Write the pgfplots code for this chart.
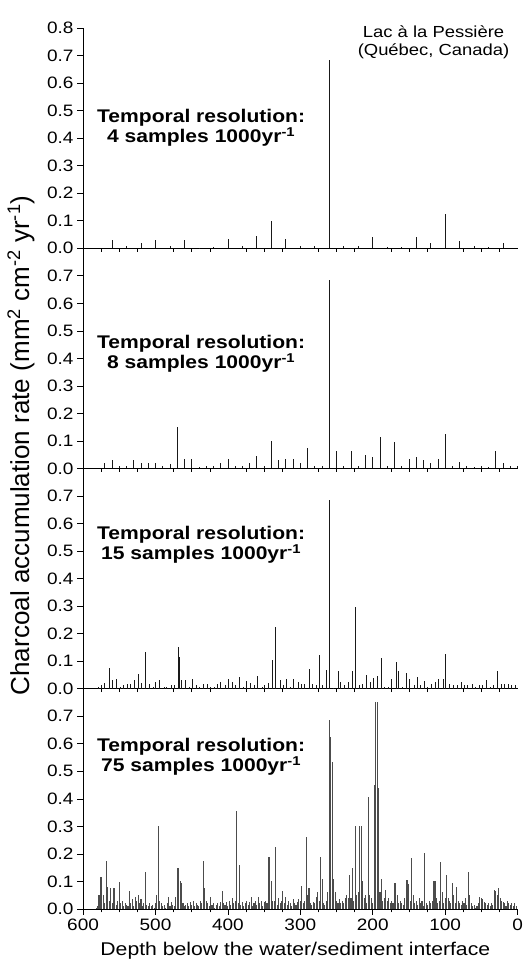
\documentclass[border=0pt]{standalone}
\usepackage{fontspec}
\setmainfont{Liberation Sans}[FakeStretch=1.15]
\newfontfamily\ylabfont{Liberation Sans}
\usepackage{pgfplots}
\pgfplotsset{compat=1.18}
\usepgfplotslibrary{groupplots}
\usetikzlibrary{calc}

\newcommand{\ticksize}{\fontsize{16.5bp}{18bp}\selectfont}
\newcommand{\notesize}{\fontsize{18.3bp}{17.7bp}\selectfont\bfseries}
\pgfplotsset{
    spikes/.style={ycomb, draw=black!90, line width=0.8bp, mark=none},
}
\tikzset{note/.style={anchor=base, align=center, font=\notesize}}

\begin{document}
\begin{tikzpicture}
\begin{groupplot}[
    group style={group size=1 by 4, vertical sep=0pt},
    scale only axis,
    width=434bp, height=220bp,
    xmin=0, xmax=600, x dir=reverse,
    ymin=0, ymax=0.8,
    axis x line*=bottom, axis y line*=left,
    axis line style={-, black, line width=0.6bp},
    tick align=outside,
    major tick length=6bp, minor tick length=3.5bp,
    tick style={black, line width=0.6bp},
    xtick={0,100,...,600}, minor x tick num=3,
    ytick={0,0.1,0.2,0.3,0.4,0.5,0.6,0.7},
    /pgf/number format/assume math mode=true,
    yticklabel style={font=\ticksize, /pgf/number format/fixed,
        /pgf/number format/fixed zerofill, /pgf/number format/precision=1},
    xticklabel style={font=\ticksize},
    clip=false,
]
% 4 samples per 1000 yr
\nextgroupplot[ytick={0,0.1,0.2,0.3,0.4,0.5,0.6,0.7,0.8},
    xmajorticks=false, xminorticks=false, xticklabels={}]
\addplot[spikes] coordinates {
(560,0.03) (540,0.01) (520,0.02) (500,0.03) (480,0.01) (460,0.03) (440,0.002)
(420,0.005) (400,0.035) (380,0.01) (360,0.045) (340,0.10) (320,0.035) (300,0.01)
(280,0.01) (260,0.685) (240,0.01) (220,0.01) (200,0.04) (180,0.005) (160,0.005)
(140,0.04) (120,0.02) (100,0.125) (80,0.025) (60,0.01) (40,0.005) (20,0.02)
};
\node[note] at (axis cs:437,0.385) {Temporal resolution:\\4 samples 1000yr\textsuperscript{-1}};
\node[anchor=base, align=center, font=\fontsize{16bp}{17.5bp}\selectfont]
  at (axis cs:116,0.702) {Lac à la Pessière\\(Québec, Canada)};

% 8 samples per 1000 yr
\nextgroupplot[xmajorticks=false, xminorticks=false, xticklabels={}]
\addplot[spikes] coordinates {
(570,0.02) (560,0.03) (550,0.01) (540,0.01) (530,0.03) (520,0.02) (510,0.02)
(500,0.02) (490,0.01) (480,0.015) (470,0.15) (460,0.035) (450,0.035) (440,0.005)
(430,0.01) (420,0.01) (410,0.02) (400,0.035) (390,0.01) (380,0.01) (370,0.02)
(360,0.045) (350,0.01) (340,0.10) (330,0.03) (320,0.035) (310,0.035) (300,0.02)
(290,0.075) (280,0.01) (270,0.01) (260,0.685) (250,0.065) (240,0.01) (230,0.065)
(220,0.01) (210,0.05) (200,0.04) (190,0.115) (180,0.01) (170,0.095) (160,0.01)
(150,0.035) (140,0.04) (130,0.03) (120,0.02) (110,0.035) (100,0.125) (90,0.01)
(80,0.025) (70,0.01) (60,0.005) (50,0.01) (40,0.005) (30,0.065) (20,0.02)
(10,0.01) (0,0.01)
};
\node[note] at (axis cs:437,0.364) {Temporal resolution:\\8 samples 1000yr\textsuperscript{-1}};

% 15 samples per 1000 yr
\nextgroupplot[xmajorticks=false, xminorticks=false, xticklabels={}]
\addplot[spikes] coordinates {
(579,0.005) (575,0.012) (570,0.02) (564,0.075) (560,0.033) (554,0.035) (549,0.008)
(545,0.015) (539,0.018) (535,0.018) (529,0.03) (524,0.053) (519,0.02) (514,0.135)
(509,0.018) (503,0.006) (500,0.025) (494,0.03) (488,0.008) (485,0.008) (478,0.015)
(474,0.015) (469,0.15) (467,0.115) (464,0.033) (459,0.033) (453,0.006) (449,0.035)
(443,0.012) (439,0.008) (434,0.018) (428,0.018) (424,0.008) (419,0.008) (414,0.018)
(410,0.024) (404,0.012) (399,0.035) (394,0.024) (389,0.012) (384,0.041) (378,0.008)
(374,0.029) (369,0.02) (364,0.015) (359,0.047) (353,0.006) (349,0.015) (344,0.02)
(339,0.103) (334,0.223) (328,0.03) (324,0.015) (319,0.035) (314,0.008) (309,0.035)
(303,0.024) (298,0.018) (294,0.018) (288,0.072) (284,0.018) (278,0.012) (274,0.123)
(269,0.015) (264,0.069) (260,0.685) (254,0.002) (248,0.063) (244,0.024) (239,0.015)
(234,0.024) (228,0.063) (224,0.296) (218,0.015) (214,0.018) (209,0.051) (203,0.024)
(199,0.039) (194,0.047) (188,0.111) (184,0.006) (178,0.006) (174,0.035) (168,0.097)
(164,0.063) (159,0.006) (153,0.057) (149,0.035) (143,0.015) (139,0.041) (134,0.015)
(128,0.029) (124,0.006) (119,0.018) (114,0.024) (109,0.035) (103,0.035) (99,0.125)
(94,0.018) (88,0.012) (83,0.012) (78,0.024) (73,0.015) (69,0.015) (63,0.018)
(58,0.006) (53,0.012) (48,0.012) (43,0.03) (38,0.008) (34,0.015) (28,0.063)
(23,0.018) (18,0.018) (13,0.018) (8,0.012) (3,0.012)
};
\node[note] at (axis cs:437,0.469) {Temporal resolution:\\15 samples 1000yr\textsuperscript{-1}};

% 75 samples per 1000 yr
\nextgroupplot
\addplot[spikes, draw=black!70, line width=1.05bp] coordinates {
(582,0.005) (580,0.01) (578,0.05) (576,0.115) (574,0.115) (572,0.05) (570,0.02)
(568,0.175) (566,0.08) (564,0.03) (562,0.075) (560,0.02) (558,0.075) (556,0.075)
(554,0.015) (552,0.03) (550,0.097) (548,0.02) (546,0.03) (544,0.01) (542,0.02)
(540,0.015) (538,0.01) (536,0.065) (534,0.02) (532,0.035) (530,0.01) (528,0.045)
(526,0.03) (524,0.05) (522,0.02) (520,0.035) (518,0.01) (516,0.02) (514,0.135)
(512,0.015) (510,0.01) (508,0.02) (506,0.01) (504,0.015) (502,0.005) (500,0.02)
(498,0.05) (496,0.30) (494,0.03) (492,0.02) (490,0.01) (488,0.015) (486,0.005)
(484,0.02) (482,0.045) (480,0.01) (478,0.025) (476,0.015) (474,0.01) (472,0.045)
(470,0.15) (468,0.15) (466,0.10) (464,0.095) (462,0.02) (460,0.01) (458,0.015)
(456,0.02) (454,0.01) (452,0.025) (450,0.015) (448,0.03) (446,0.01) (444,0.02)
(442,0.015) (440,0.01) (438,0.03) (436,0.02) (434,0.175) (432,0.075) (430,0.03)
(428,0.02) (426,0.01) (424,0.045) (422,0.015) (420,0.02) (418,0.005) (416,0.015)
(414,0.02) (412,0.01) (410,0.025) (408,0.065) (406,0.02) (404,0.015) (402,0.025)
(400,0.01) (398,0.03) (396,0.015) (394,0.04) (392,0.02) (390,0.03) (388,0.355)
(386,0.02) (384,0.16) (382,0.015) (380,0.025) (378,0.01) (376,0.02) (374,0.03)
(372,0.015) (370,0.025) (368,0.045) (366,0.01) (364,0.02) (362,0.03) (360,0.015)
(358,0.045) (356,0.02) (354,0.03) (352,0.01) (350,0.025) (348,0.03) (346,0.02)
(344,0.19) (342,0.19) (340,0.10) (338,0.03) (336,0.03) (334,0.225) (332,0.015)
(330,0.04) (328,0.02) (326,0.03) (324,0.065) (322,0.02) (320,0.045) (318,0.015)
(316,0.03) (314,0.02) (312,0.01) (310,0.035) (308,0.02) (306,0.015) (304,0.025)
(302,0.035) (300,0.03) (298,0.085) (296,0.02) (294,0.03) (292,0.26) (290,0.05)
(288,0.075) (286,0.02) (284,0.015) (282,0.025) (280,0.02) (278,0.045) (276,0.06)
(274,0.03) (272,0.19) (270,0.11) (268,0.02) (266,0.015) (264,0.03) (262,0.06)
(260,0.685) (258,0.625) (256,0.535) (254,0.11) (252,0.06) (250,0.03) (248,0.02)
(246,0.035) (244,0.02) (242,0.03) (240,0.02) (238,0.04) (236,0.05) (234,0.04)
(232,0.125) (230,0.04) (228,0.15) (226,0.03) (224,0.30) (222,0.05) (220,0.06)
(218,0.30) (216,0.30) (214,0.10) (212,0.04) (210,0.05) (208,0.02) (206,0.405)
(204,0.05) (202,0.04) (200,0.02) (198,0.45) (196,0.75) (194,0.75) (192,0.44)
(190,0.06) (188,0.11) (186,0.03) (184,0.04) (182,0.07) (180,0.03) (178,0.04)
(176,0.02) (174,0.03) (172,0.02) (170,0.095) (168,0.095) (166,0.05) (164,0.02)
(162,0.03) (160,0.02) (158,0.015) (156,0.04) (154,0.105) (152,0.105) (150,0.09)
(148,0.03) (146,0.185) (144,0.05) (142,0.02) (140,0.03) (138,0.015) (136,0.04)
(134,0.02) (132,0.03) (130,0.01) (128,0.205) (126,0.02) (124,0.015) (122,0.03)
(120,0.02) (118,0.03) (116,0.10) (114,0.10) (112,0.04) (110,0.02) (108,0.03)
(106,0.17) (104,0.06) (102,0.02) (100,0.04) (98,0.125) (96,0.04) (94,0.03)
(92,0.02) (90,0.095) (88,0.05) (86,0.02) (84,0.08) (82,0.03) (80,0.02)
(78,0.015) (76,0.03) (74,0.02) (72,0.04) (70,0.015) (68,0.135) (66,0.05)
(64,0.02) (62,0.01) (60,0.015) (58,0.005) (56,0.01) (54,0.02) (52,0.045)
(50,0.04) (48,0.035) (46,0.025) (44,0.02) (42,0.015) (40,0.02) (38,0.01)
(36,0.02) (34,0.015) (32,0.07) (30,0.065) (28,0.05) (26,0.075) (24,0.04)
(22,0.03) (20,0.025) (18,0.02) (16,0.01) (14,0.03) (12,0.02) (10,0.015)
(8,0.02) (6,0.01) (4,0.02) (2,0.01)
};
\node[note] at (axis cs:437,0.498) {Temporal resolution:\\75 samples 1000yr\textsuperscript{-1}};
\end{groupplot}

\node[rotate=90, anchor=center, font=\ylabfont\fontsize{26bp}{28bp}\selectfont]
  at ($(group c1r1.north west)+(-62bp,-417bp)$)
  {Charcoal accumulation rate (mm\textsuperscript{2} cm\textsuperscript{-2} yr\textsuperscript{-1})};
\node[anchor=base, font=\fontsize{18.4bp}{20bp}\selectfont]
  at ($(group c1r4.south west)+(212bp,-46bp)$)
  {Depth below the water/sediment interface};

\pgfresetboundingbox
\path[use as bounding box] ($(group c1r1.north west)+(-83bp,28bp)$)
  rectangle ($(group c1r4.south west)+(440bp,-53bp)$);
\end{tikzpicture}
\end{document}
